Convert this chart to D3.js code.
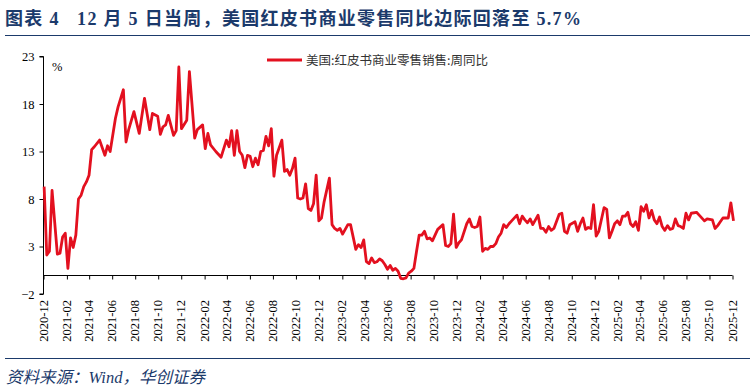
<!DOCTYPE html>
<html><head><meta charset="utf-8">
<script src="https://cdn.jsdelivr.net/npm/d3@7/dist/d3.min.js"></script>
<style>
html,body{margin:0;padding:0;background:#fff;}
svg{display:block;}
</style></head>
<body>
<svg id="chart" width="754" height="392"></svg>
<script>
const titleText = "图表 4\u00a0\u00a0\u00a012 月 5 日当周，美国红皮书商业零售同比边际回落至 5.7%";
const sourceText = "资料来源：Wind，华创证券";
const seriesName = "美国:红皮书商业零售销售:周同比";
const yTicks = [-2, 3, 8, 13, 18, 23];
const xTickLabels = ["2020-12","2021-02","2021-04","2021-06","2021-08","2021-10","2021-12","2022-02","2022-04","2022-06","2022-08","2022-10","2022-12","2023-02","2023-04","2023-06","2023-08","2023-10","2023-12","2024-02","2024-04","2024-06","2024-08","2024-10","2024-12","2025-02","2025-04","2025-06","2025-08","2025-10","2025-12"];

const dates2020_21 = ["2020-12-04","2020-12-11","2020-12-18","2020-12-25","2021-01-08","2021-01-15","2021-01-22","2021-01-29","2021-02-05","2021-02-12","2021-02-19","2021-02-26","2021-03-05","2021-03-12","2021-03-19","2021-03-26","2021-04-02","2021-04-09","2021-04-16","2021-04-30","2021-05-14","2021-05-21","2021-05-28","2021-06-11","2021-06-18","2021-07-02","2021-07-09","2021-07-16","2021-07-30","2021-08-13","2021-08-27","2021-09-10","2021-09-17","2021-10-01","2021-10-08","2021-10-15","2021-10-22","2021-10-29","2021-11-12","2021-11-19","2021-11-26","2021-12-03","2021-12-17","2021-12-24"];
const values2020_21 = [9.3,2.1,2.5,8.9,2.2,2.3,4.0,4.4,0.7,3.9,2.9,4.2,8.0,8.4,9.3,9.8,10.5,13.2,13.5,14.2,12.6,13.6,13.0,16.5,17.7,19.5,14.0,15.3,17.2,14.9,18.6,15.3,17.0,16.7,14.8,15.6,15.8,16.8,14.7,15.2,21.9,15.4,16.3,21.4];

const dates2022 = ["2022-01-07","2022-01-14","2022-01-28","2022-02-04","2022-02-11","2022-02-18","2022-03-04","2022-03-18","2022-04-01","2022-04-08","2022-04-15","2022-04-22","2022-04-29","2022-05-06","2022-05-13","2022-05-20","2022-05-27","2022-06-03","2022-06-10","2022-06-17","2022-06-24","2022-07-01","2022-07-08","2022-07-15","2022-07-22","2022-07-29","2022-08-05","2022-08-12","2022-08-26","2022-09-02","2022-09-09","2022-09-16","2022-09-23","2022-09-30","2022-10-07","2022-10-14","2022-10-21","2022-10-28","2022-11-04","2022-11-11","2022-11-18","2022-11-25","2022-12-02","2022-12-09","2022-12-16","2022-12-30"];
const values2022 = [14.4,15.3,15.8,13.3,14.9,13.7,13.0,12.4,14.2,13.5,15.2,12.6,15.2,13.0,12.6,11.3,12.6,12.5,11.4,12.3,11.6,13.0,13.1,14.6,13.6,15.4,10.4,12.6,14.2,10.9,11.1,10.5,11.2,12.3,8.1,8.0,8.1,9.6,7.0,6.8,7.5,10.5,5.7,6.0,7.7,10.2];

const dates2023 = ["2023-01-06","2023-01-13","2023-01-20","2023-01-27","2023-02-03","2023-02-10","2023-02-17","2023-02-24","2023-03-10","2023-03-17","2023-03-24","2023-03-31","2023-04-07","2023-04-14","2023-04-21","2023-04-28","2023-05-05","2023-05-12","2023-05-19","2023-05-26","2023-06-02","2023-06-09","2023-06-16","2023-06-23","2023-06-30","2023-07-07","2023-07-14","2023-07-21","2023-07-28","2023-08-04","2023-08-11","2023-08-18","2023-08-25","2023-09-01","2023-09-08","2023-09-15","2023-09-22","2023-09-29","2023-10-06","2023-10-13","2023-10-27","2023-11-03","2023-11-10","2023-11-17","2023-11-24","2023-12-01","2023-12-08","2023-12-15","2023-12-29"];
const values2023 = [5.3,4.9,4.7,4.9,4.3,4.8,5.3,5.3,2.7,3.2,2.9,3.7,1.4,1.2,1.8,1.3,1.4,1.7,1.5,1.1,0.6,1.0,0.5,0.7,0.4,-0.35,-0.4,-0.3,0.2,0.4,0.7,2.5,4.2,4.2,4.6,3.8,3.9,3.6,4.2,4.8,5.3,3.1,3.0,3.3,6.4,2.9,3.4,3.7,5.4];

const dates2024 = ["2024-01-05","2024-01-12","2024-01-19","2024-01-26","2024-02-02","2024-02-09","2024-02-16","2024-02-23","2024-03-01","2024-03-08","2024-03-15","2024-03-22","2024-03-29","2024-04-05","2024-04-12","2024-04-19","2024-04-26","2024-05-10","2024-05-17","2024-05-24","2024-05-31","2024-06-07","2024-06-14","2024-06-21","2024-07-05","2024-07-12","2024-07-19","2024-07-26","2024-08-02","2024-08-09","2024-08-16","2024-08-30","2024-09-06","2024-09-13","2024-09-20","2024-09-27","2024-10-11","2024-10-18","2024-10-25","2024-11-01","2024-11-08","2024-11-15","2024-11-22","2024-11-29","2024-12-06","2024-12-13","2024-12-27"];
const values2024 = [5.9,5.1,5.0,5.1,6.1,2.5,2.8,2.7,3.0,3.0,3.3,4.0,4.4,5.3,5.0,5.4,5.7,6.3,5.4,6.2,5.8,5.5,5.9,5.3,6.3,4.9,4.9,4.5,5.1,4.7,4.9,6.4,6.5,4.6,4.4,5.3,5.6,4.6,5.4,6.0,4.8,5.0,4.9,7.4,4.1,4.6,7.1];

const dates2025 = ["2025-01-03","2025-01-10","2025-01-17","2025-01-24","2025-01-31","2025-02-07","2025-02-14","2025-02-21","2025-02-28","2025-03-07","2025-03-14","2025-03-21","2025-03-28","2025-04-04","2025-04-11","2025-04-18","2025-04-25","2025-05-02","2025-05-09","2025-05-16","2025-05-23","2025-05-30","2025-06-06","2025-06-13","2025-06-20","2025-06-27","2025-07-04","2025-07-11","2025-07-18","2025-07-25","2025-08-01","2025-08-08","2025-08-15","2025-08-29","2025-09-05","2025-09-19","2025-09-26","2025-10-10","2025-10-17","2025-10-24","2025-10-31","2025-11-07","2025-11-21","2025-11-28","2025-12-05"];
const values2025 = [6.9,3.9,4.6,5.4,5.7,5.3,6.2,6.2,6.6,5.4,5.1,5.6,4.7,7.2,6.7,7.4,6.0,6.8,5.8,5.4,6.1,5.1,4.7,5.2,4.8,4.9,5.9,5.2,5.1,4.9,6.5,5.8,6.5,6.6,6.3,5.7,5.9,5.8,4.9,5.2,5.6,6.0,6.0,7.6,5.7];

const parse = d3.timeParse("%Y-%m-%d");
const parseMonth = d3.timeParse("%Y-%m");
const dates = [].concat(dates2020_21, dates2022, dates2023, dates2024, dates2025);
const values = [].concat(values2020_21, values2022, values2023, values2024, values2025);
const data = dates.map((d, i) => ({date: parse(d), value: values[i]}));

const svg = d3.select("#chart");
const navy = "#1b3a6b";
const serif = "'Liberation Serif','Times New Roman','Noto Sans CJK SC',serif";

// Title
svg.append("text").attr("x", 5).attr("y", 25)
  .attr("font-family", serif).attr("font-weight", "bold").attr("font-size", 18)
  .attr("letter-spacing", 1.3)
  .attr("fill", navy).text(titleText);
svg.append("line").attr("x1", 5).attr("x2", 750).attr("y1", 35.5).attr("y2", 35.5)
  .attr("stroke", navy).attr("stroke-width", 1);

const x = d3.scaleTime().domain([parseMonth("2020-12"), parseMonth("2025-12")]).range([43, 732]);
const y = d3.scaleLinear().domain([-2, 23]).range([294, 56.5]);

// Y axis
const yAxis = d3.axisLeft(y).tickValues(yTicks).tickSize(4).tickPadding(5).tickFormat(d3.format("d"));
const gy = svg.append("g").attr("transform", "translate(43.5,0)").call(yAxis);
gy.select(".domain").attr("stroke", "#000").attr("d", `M-4,${y(-2)}H0V${y(23)}H-4`);
gy.selectAll(".tick line").attr("stroke", "#000");
gy.selectAll(".tick text").attr("font-family", serif).attr("font-size", 12.5).attr("fill", "#000");

// X axis at zero
const xTicks = xTickLabels.map(parseMonth);
const xAxis = d3.axisBottom(x).tickValues(xTicks).tickSize(4).tickFormat("");
const gx = svg.append("g").attr("transform", `translate(0.5,${Math.round(y(0)) + 0.5})`).call(xAxis);
gx.select(".domain").attr("stroke", "#000").attr("d", `M${x(xTicks[0])},0H${x(xTicks[xTicks.length-1])}`);
gx.selectAll(".tick line").attr("stroke", "#000");

// X labels at bottom, rotated
svg.append("g").selectAll("text").data(xTicks).join("text")
  .attr("transform", d => `translate(${x(d) + 4.5},300) rotate(-90)`)
  .attr("text-anchor", "end")
  .attr("font-family", serif).attr("font-size", 12.5).attr("fill", "#000")
  .text(d => d3.timeFormat("%Y-%m")(d));

// % label
svg.append("text").attr("x", 52).attr("y", 71).attr("font-family", serif)
  .attr("font-size", 12.5).attr("fill", "#000").text("%");

// Line
const line = d3.line().x(d => x(d.date)).y(d => y(d.value));
svg.append("path").datum(data).attr("d", line).attr("fill", "none")
  .attr("stroke", "#e3101f").attr("stroke-width", 2.8).attr("stroke-linejoin", "round");

// Legend
svg.append("line").attr("x1", 267).attr("x2", 302).attr("y1", 60).attr("y2", 60)
  .attr("stroke", "#e3101f").attr("stroke-width", 3);
svg.append("text").attr("x", 306).attr("y", 64.5).attr("font-family", "'Noto Sans CJK SC',sans-serif")
  .attr("font-size", 12.5).attr("fill", "#333").text(seriesName);

// Footer
svg.append("line").attr("x1", 5).attr("x2", 750).attr("y1", 358.5).attr("y2", 358.5)
  .attr("stroke", navy).attr("stroke-width", 1);
svg.append("text").attr("x", 6).attr("y", 383).attr("font-family", serif)
  .attr("font-style", "italic").attr("font-size", 16.5).attr("fill", navy).text(sourceText);
</script>
</body></html>
